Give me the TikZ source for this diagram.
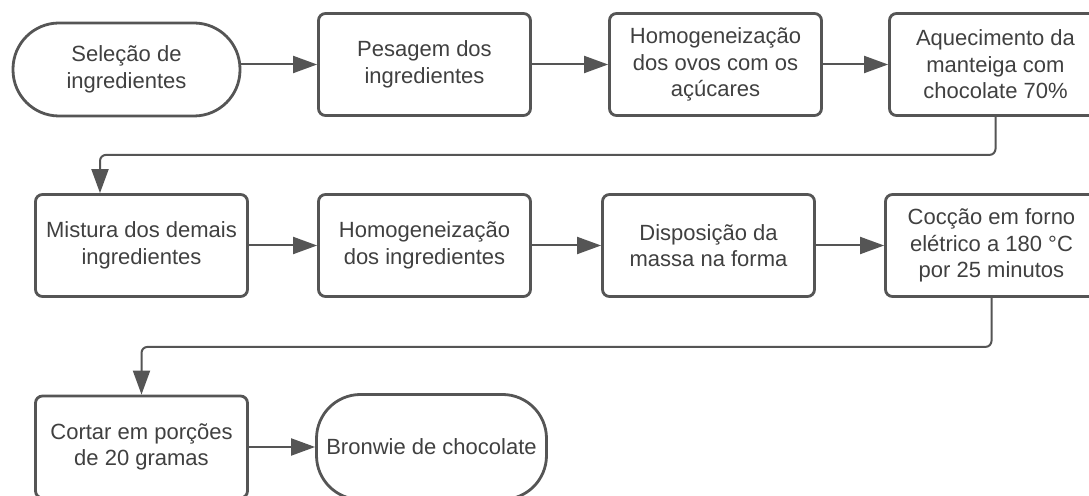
\documentclass[tikz,border=0pt]{standalone}
\usepackage{fontspec}
\setmainfont{Liberation Sans}
\usepackage{xcolor}
\usepackage{tikz}
\usetikzlibrary{arrows.meta, positioning}
\definecolor{linegray}{RGB}{85,85,85}
\definecolor{textgray}{RGB}{64,64,64}

\begin{document}
\begin{tikzpicture}[
    x=0.5pt, y=-0.5pt,
    box/.style={draw=linegray, line width=1.4pt, rounded corners=3.5pt, fill=white, minimum width=106pt, minimum height=51pt, inner sep=1pt, align=center, text=textgray, font=\fontsize{11}{13.3}\selectfont},
    term/.style={box, rounded corners=23pt, minimum width=113.5pt, minimum height=46.5pt},
    arr/.style={-{Triangle[length=12pt, width=8.5pt]}, line width=1pt, draw=linegray},
    back/.style={arr, rounded corners=3pt}
]
\useasboundingbox (0,0) rectangle (1089,496);

% first row
\node[term] (sel) at (126.5,69.5) {Seleção de\\ingredientes};
\node[box] (pes) at (424.5,64.5) {Pesagem dos\\ingredientes};
\node[box, right=38.1pt of pes] (hom) {Homogeneização\\dos ovos com os\\açúcares};
\node[box, right=32.6pt of hom] (aq) {Aquecimento da\\manteiga com\\chocolate 70\%};

% second row
\node[box] (mis) at (141.5,245.5) {Mistura dos demais\\ingredientes};
\node[box, right=34.1pt of mis] (hom2) {Homogeneização\\dos ingredientes};
\node[box, right=34.6pt of hom2] (dis) {Disposição da\\massa na forma};
\node[box, right=34.1pt of dis] (coc) {Cocção em forno\\elétrico a 180 °C\\por 25 minutos};

% last row
\node[box] (cor) at (141.5,447) {Cortar em porções\\de 20 gramas};
\node[term, right=33.1pt of cor, rounded corners=22pt, minimum width=115pt, minimum height=52.5pt, inner xsep=0pt] (brw) {Bronwie de chocolate};

\draw[arr] (sel.east |- pes.west) -- (pes.west);
\draw[arr] (pes) -- (hom);
\draw[arr] (hom) -- (aq);
\draw[back] (aq.south) -- ++(0,38) -| ([xshift=-20.75pt]mis.north);
\draw[arr] (mis) -- (hom2);
\draw[arr] (hom2) -- (dis);
\draw[arr] (dis) -- (coc);
\draw[back] (coc.south) -- ++(0,49) -| (cor.north);
\draw[arr] (cor) -- (brw);

\end{tikzpicture}
\end{document}
